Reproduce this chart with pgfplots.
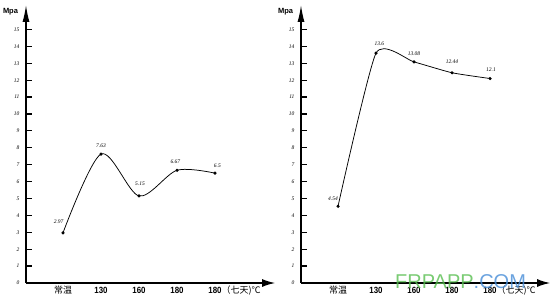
\documentclass[border=0pt]{standalone}
\usepackage{fontspec}
\setmainfont{Liberation Serif}
\newfontfamily\labfont{Liberation Sans}[FakeStretch=0.88]
\newfontfamily\sansf{Liberation Sans}
\newfontfamily\cjk{Noto Sans CJK SC}
\usepackage{pgfplots}
\pgfplotsset{compat=1.18}
\usepackage{pgfplotstable}
\usetikzlibrary{arrows.meta}

\definecolor{wmgreen}{RGB}{88,190,80}
\definecolor{wmblue}{RGB}{70,140,215}

\pgfplotstableread{
x y lab dx dy
0 2.97 2.97 -4.4 11.3
1 7.63 7.63 0 8.3
2 5.15 5.15 1 12
3 6.67 6.67 -1.6 8.3
4 6.5 6.5 2.3 7.4
}\leftdata

\pgfplotstableread{
x y lab dx dy
0 4.54 4.54 -5 7.6
1 13.6 13.6 3.3 9.3
2 13.08 13.08 0 8.3
3 12.44 12.44 0 11.3
4 12.1 12.1 1 9
}\rightdata

\pgfplotsset{
  myaxis/.style={
    x=38pt, y=16.9pt,
    xmin=-0.974, xmax=5.58, ymin=0, ymax=16.45,
    enlargelimits=false,
    axis lines=left,
    axis line style={line width=1.3pt, black},
    x axis line style={-{Latex[length=13pt,width=8pt]}},
    y axis line style={-{Latex[length=17pt,width=7pt]}},
    xtick={0,1,2,3,4},
    xticklabels={{\cjk 常温},{\labfont\bfseries 130},{\labfont\bfseries 160},{\labfont\bfseries 180},{\labfont\bfseries 180\rlap{\cjk\mdseries （七天)℃}}},
    ytick={0,1,...,15},
    tick align=inside,
    major tick length=6pt,
    major x tick style={draw=none},
    major y tick style={line width=1.2pt, black},
    /pgf/number format/assume math mode=true,
    yticklabel style={font=\fontsize{5.5}{6}\selectfont\itshape, xshift=-3pt},
    xticklabel style={font=\fontsize{9}{10}\selectfont, anchor=north, text height=7pt, text depth=1pt, inner sep=0pt, yshift=-3.5pt},
    clip=false,
  },
  myplot/.style={
    black, line width=0.75pt, smooth,
    mark=*, mark size=1.2pt, mark options={solid},
    nodes near coords, point meta=explicit symbolic,
    visualization depends on={\thisrow{dx}\as\dx},
    visualization depends on={\thisrow{dy}\as\dy},
    every node near coord/.append style={anchor=center, xshift=\dx, yshift=\dy, font=\fontsize{5.5}{6}\selectfont\itshape, inner sep=0pt},
  },
}

\begin{document}
\begin{tikzpicture}[x=1pt,y=1pt]
\useasboundingbox (0,0) rectangle (553,305);
\begin{axis}[myaxis, at={(26pt,22pt)}, anchor=south west]
\addplot[myplot, tension=0.5] table[x=x,y=y,meta=lab]{\leftdata};
\end{axis}
\begin{axis}[myaxis, at={(301pt,22pt)}, anchor=south west]
\addplot[myplot, tension=0.33] table[x=x,y=y,meta=lab]{\rightdata};
\end{axis}
\node[font=\sansf\bfseries\fontsize{7.5}{8}\selectfont] at (10.5,293) {Mpa};
\node[font=\sansf\bfseries\fontsize{7.5}{8}\selectfont] at (285.5,293) {Mpa};
\node[anchor=west, inner sep=0pt, opacity=0.8, font=\sansf\fontsize{20}{22}\selectfont] at (395,23.5) {\textcolor{wmgreen}{FRPAPP}\textcolor{wmblue}{.COM}};
\end{tikzpicture}
\end{document}
